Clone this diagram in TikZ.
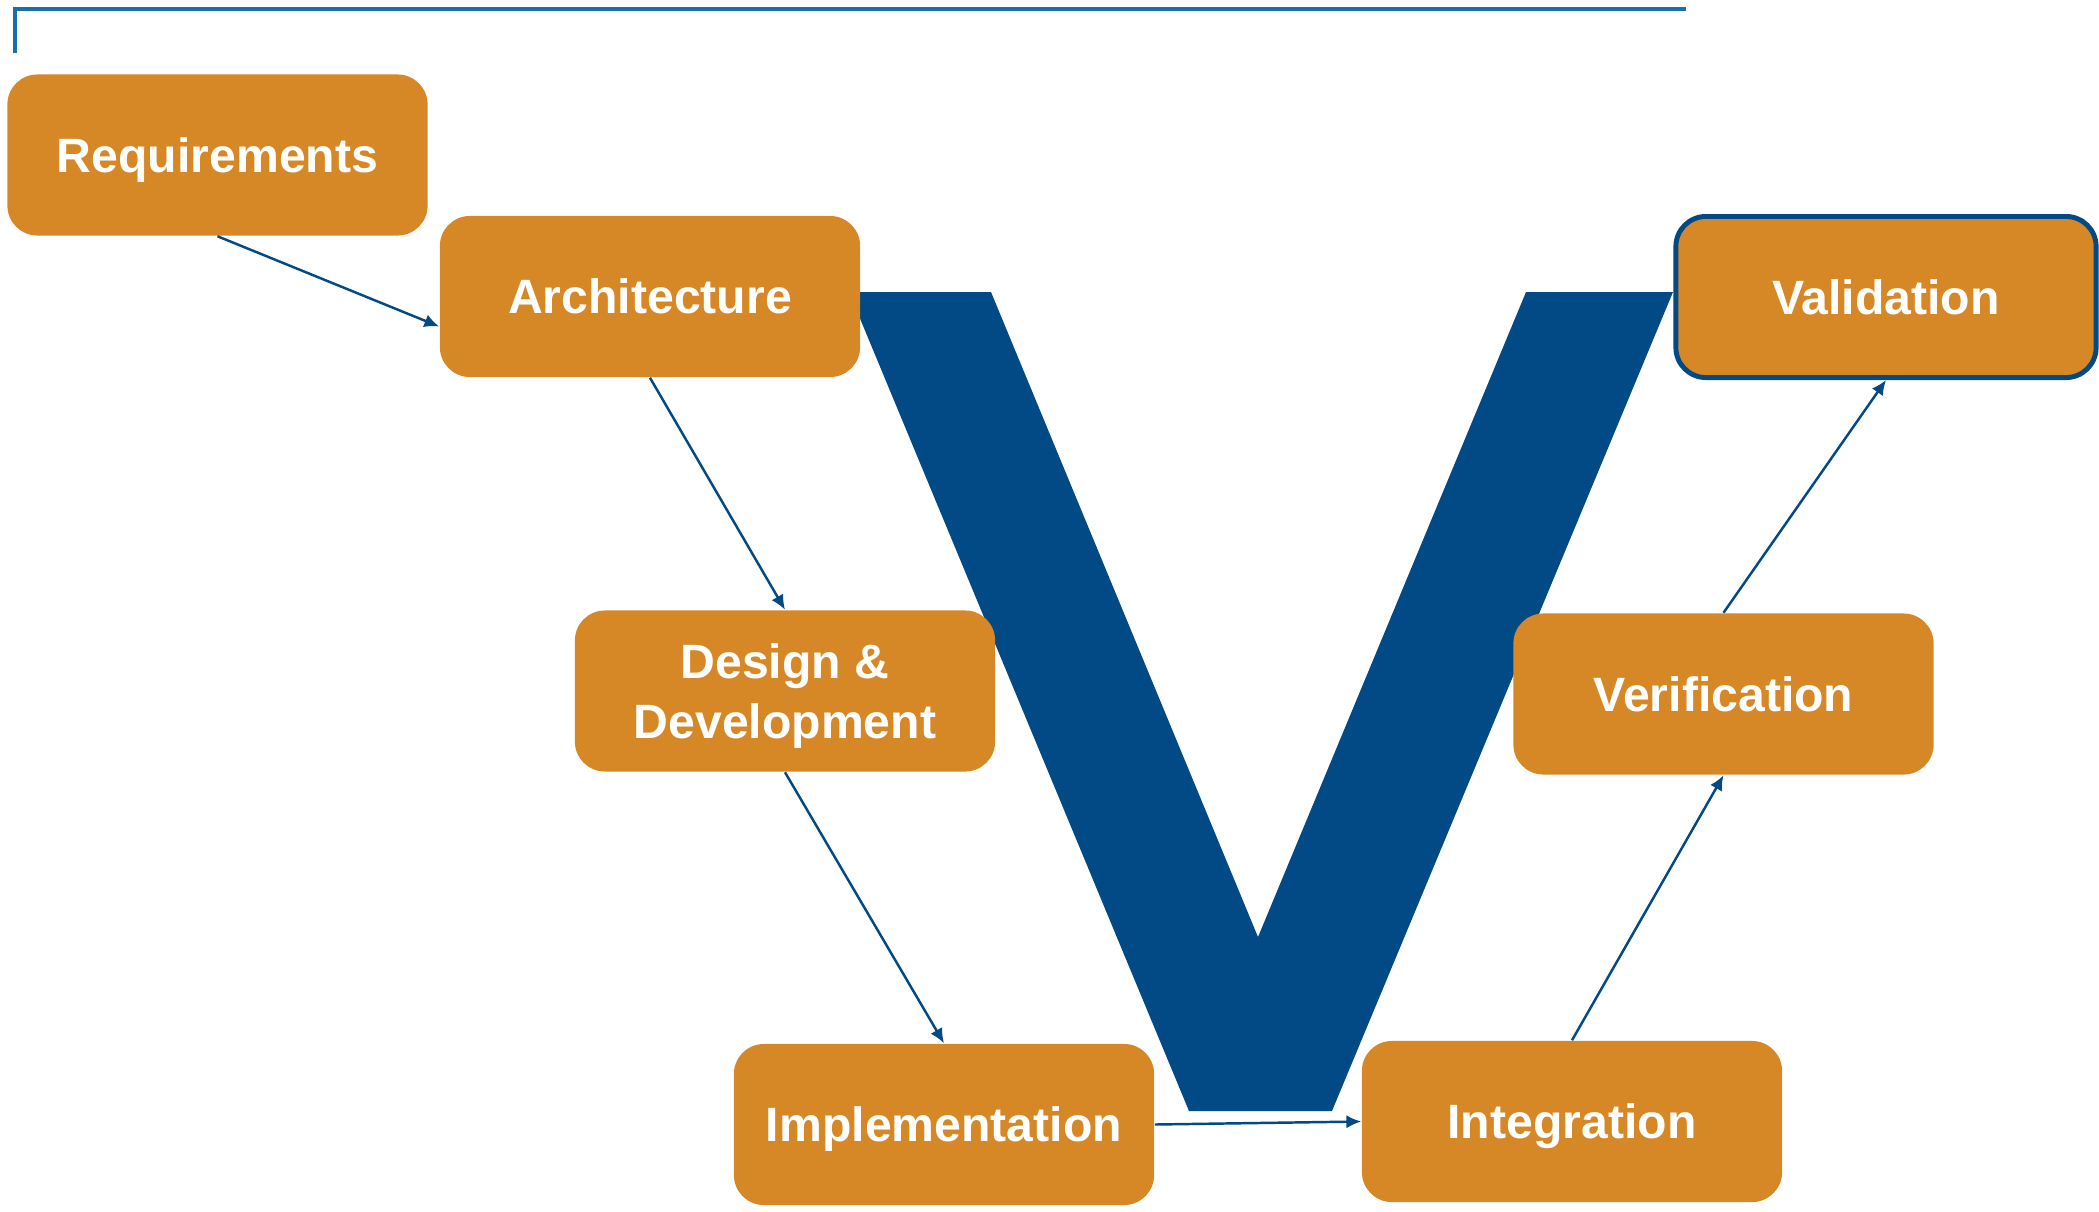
\documentclass[tikz,border=0pt]{standalone}
\usepackage{fontspec}
\setmainfont{Liberation Sans}
\usetikzlibrary{arrows.meta}
\definecolor{vorange}{HTML}{D68726}
\definecolor{vblue}{HTML}{014A86}
\definecolor{topline}{HTML}{1570AC}
\begin{document}
\begin{tikzpicture}[x=0.01cm, y=-0.01cm,
		box/.style={draw=none, fill=vorange, rounded corners=3mm, minimum width=4.2cm, minimum height=1.61cm,
			text=white, align=center, font=\fontsize{13.7}{16.8}\selectfont\bfseries, inner sep=0pt, text depth=0pt},
		link/.style={draw=vblue, line width=0.7pt, -{Latex[length=4.2pt,width=3.8pt]}}]
	\useasboundingbox (0,0) rectangle (2099,1211);
	% Đường kẻ trên
	\draw[topline, line width=0.9pt] (15,53) -- (15,9) -- (1686,9);
	% Chữ V
	\fill[vblue] (849,292) -- (991,292) -- (1258,937) -- (1526,292) -- (1673,292)
		-- (1332,1111) -- (1189,1111) -- cycle;
	% Các khối
	\node[box] (req) at (217.5,155) {Requirements};
	\node[box] (arch) at (650,296.5) {Architecture};
	\node[box] (dsgn) at (785,691) {Design \&\\Development};
	\node[box] (impl) at (944,1124.5) {Implementation};
	\node[box] (integ) at (1572,1121.5) {Integration};
	\node[box] (verif) at (1723.5,694) {Verification};
	\node[box, draw=vblue, line width=1.4pt] (valid) at (1886,297) {Validation};
	% Mũi tên
	\draw[link] (req.south) -- ([yshift=-0.3cm]arch.west);
	\draw[link] (arch.south) -- (dsgn.north);
	\draw[link] (dsgn.south) -- (impl.north);
	\draw[link] (impl.east) -- (integ.west);
	\draw[link] (integ.north) -- (verif.south);
	\draw[link] (verif.north) -- (valid.south);
\end{tikzpicture}
\end{document}
